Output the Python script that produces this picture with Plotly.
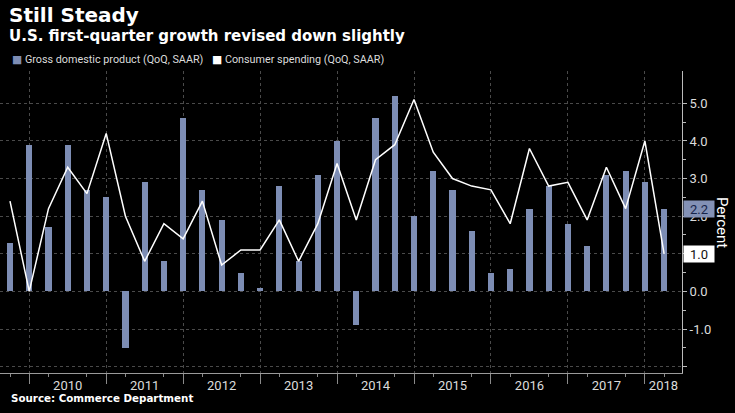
import plotly.graph_objects as go

# ---------------- data ----------------
quarters = [
    "2009Q3", "2009Q4",
    "2010Q1", "2010Q2", "2010Q3", "2010Q4",
    "2011Q1", "2011Q2", "2011Q3", "2011Q4",
    "2012Q1", "2012Q2", "2012Q3", "2012Q4",
    "2013Q1", "2013Q2", "2013Q3", "2013Q4",
    "2014Q1", "2014Q2", "2014Q3", "2014Q4",
    "2015Q1", "2015Q2", "2015Q3", "2015Q4",
    "2016Q1", "2016Q2", "2016Q3", "2016Q4",
    "2017Q1", "2017Q2", "2017Q3", "2017Q4",
    "2018Q1",
]
gdp = [
    1.3, 3.9,
    1.7, 3.9, 2.7, 2.5,
    -1.5, 2.9, 0.8, 4.6,
    2.7, 1.9, 0.5, 0.1,
    2.8, 0.8, 3.1, 4.0,
    -0.9, 4.6, 5.2, 2.0,
    3.2, 2.7, 1.6, 0.5,
    0.6, 2.2, 2.8, 1.8,
    1.2, 3.1, 3.2, 2.9,
    2.2,
]
spending = [
    2.4, 0.0,
    2.2, 3.3, 2.6, 4.2,
    2.0, 0.8, 1.8, 1.4,
    2.4, 0.7, 1.1, 1.1,
    1.9, 0.8, 1.8, 3.4,
    1.9, 3.5, 3.9, 5.1,
    3.7, 3.0, 2.8, 2.7,
    1.8, 3.8, 2.8, 2.9,
    1.9, 3.3, 2.2, 4.0,
    1.0,
]
year_labels = ["2010", "2011", "2012", "2013", "2014", "2015", "2016", "2017", "2018"]
y_ticks = [-2, -1, 0, 1, 2, 3, 4, 5]

# ---------------- styling ----------------
BAR_COLOR = "#7d8db4"
GRID = "#4a4a4a"
TXT = "#dcdcdc"
W, H = 735, 413
ML, MR, MT, MB = 0, 53, 71, 40
plot_w = W - ML - MR
plot_h = H - MT - MB

idx = list(range(len(quarters)))
x_min, x_max = -0.52, 34.93
y_min, y_max = -2.17, 5.86

# year boundaries at Q4 observations
boundaries = [i for i, q in enumerate(quarters) if q.endswith("Q4")]
# year label positions: middle of each (visible) year span
label_pos = []
for y in year_labels:
    start = idx[quarters.index(f"{int(y) - 1}Q4")]
    end = min(start + 4, x_max)
    label_pos.append((start + end) / 2)
minor_x = [i for i in idx if i % 2 == 0]


def px_to_paper_x(px):
    return (px - ML) / plot_w


def px_to_paper_y(py):
    return (H - MB - py) / plot_h


fig = go.Figure()
fig.add_trace(go.Bar(
    x=idx, y=gdp, marker=dict(color=BAR_COLOR, line=dict(width=0)),
    width=0.32, showlegend=False, name="Gross domestic product (QoQ, SAAR)",
))
fig.add_trace(go.Scatter(
    x=idx, y=spending, mode="lines", line=dict(color="white", width=1.5),
    showlegend=False, name="Consumer spending (QoQ, SAAR)",
))
# invisible carrier trace for the secondary x axis (short quarter ticks)
fig.add_trace(go.Scatter(
    x=minor_x, y=[None] * len(minor_x), xaxis="x2", mode="markers",
    marker=dict(opacity=0), showlegend=False, hoverinfo="skip",
))

fig.update_layout(
    width=W, height=H,
    paper_bgcolor="black", plot_bgcolor="black",
    margin=dict(l=ML, r=MR, t=MT, b=MB, autoexpand=False),
    bargap=0,
    xaxis=dict(
        range=[x_min, x_max],
        tickmode="array", tickvals=label_pos, ticktext=year_labels,
        ticks="", showgrid=False, zeroline=False,
        showline=True, linecolor="#9a9a9a", linewidth=1,
        tickfont=dict(family="Roboto, DejaVu Sans, sans-serif", size=13, color=TXT),
        minor=dict(tickmode="array", tickvals=boundaries, ticks="outside", ticklen=10,
                   tickcolor="#8a8a8a", showgrid=True, gridcolor=GRID, griddash="dot",
                   gridwidth=1),
    ),
    xaxis2=dict(
        range=[x_min, x_max], overlaying="x", anchor="y", side="bottom",
        tickmode="array", tickvals=minor_x, showticklabels=False,
        ticks="outside", ticklen=3, tickcolor="#8a8a8a",
        showgrid=False, zeroline=False, showline=False,
    ),
    yaxis=dict(
        range=[y_min, y_max], side="right",
        tickmode="array", tickvals=y_ticks,
        ticktext=["" if v == -2 else f"{v:.1f}" for v in y_ticks],
        ticks="outside", ticklen=4, tickcolor="#bbbbbb",
        showline=True, linecolor="#bbbbbb", linewidth=1,
        showgrid=True, gridcolor=GRID, griddash="dot", gridwidth=1,
        zeroline=False,
        tickfont=dict(family="Roboto, DejaVu Sans, sans-serif", size=13, color=TXT),
        minor=dict(tickmode="array", tickvals=[v + 0.5 for v in y_ticks[:-1]],
                   ticks="outside", ticklen=3, tickcolor="#bbbbbb", showgrid=False),
    ),
)

ann = []
ann.append(dict(
    text="<b>Still Steady</b>", xref="paper", yref="paper",
    x=px_to_paper_x(7), y=px_to_paper_y(15), xanchor="left", yanchor="middle",
    showarrow=False, font=dict(family="DejaVu Sans", size=20, color="white"),
))
ann.append(dict(
    text="<b>U.S. first-quarter growth revised down slightly</b>", xref="paper", yref="paper",
    x=px_to_paper_x(7), y=px_to_paper_y(36), xanchor="left", yanchor="middle",
    showarrow=False, font=dict(family="DejaVu Sans", size=15, color="white"),
))
ann.append(dict(
    text=f'<span style="color:{BAR_COLOR}">■</span> Gross domestic product (QoQ, SAAR)',
    xref="paper", yref="paper", x=px_to_paper_x(10), y=px_to_paper_y(60),
    xanchor="left", yanchor="middle", showarrow=False,
    font=dict(family="Roboto, DejaVu Sans, sans-serif", size=10.8, color=TXT),
))
ann.append(dict(
    text='<span style="color:white">■</span> Consumer spending (QoQ, SAAR)',
    xref="paper", yref="paper", x=px_to_paper_x(210), y=px_to_paper_y(60),
    xanchor="left", yanchor="middle", showarrow=False,
    font=dict(family="Roboto, DejaVu Sans, sans-serif", size=10.8, color=TXT),
))
ann.append(dict(
    text="<b>Source: Commerce Department</b>", xref="paper", yref="paper",
    x=px_to_paper_x(9), y=px_to_paper_y(398), xanchor="left", yanchor="middle",
    showarrow=False, font=dict(family="DejaVu Sans", size=10.3, color="white"),
))
ann.append(dict(
    text="Percent", xref="paper", yref="paper", x=px_to_paper_x(722), y=0.5,
    xanchor="center", yanchor="middle", textangle=90, showarrow=False,
    font=dict(family="Roboto, DejaVu Sans, sans-serif", size=15, color="white"),
))
# last-value tags
ann.append(dict(
    text=f"{gdp[-1]:.1f}", xref="paper", yref="y", x=1.0, xshift=1, y=gdp[-1],
    xanchor="left", yanchor="middle", showarrow=False, width=28, height=14,
    bgcolor="#8391b5", borderpad=1,
    font=dict(family="Roboto, DejaVu Sans, sans-serif", size=13, color="#16244a"),
))
ann.append(dict(
    text=f"{spending[-1]:.1f}", xref="paper", yref="y", x=1.0, xshift=1, y=spending[-1],
    xanchor="left", yanchor="middle", showarrow=False, width=28, height=14,
    bgcolor="white", borderpad=1,
    font=dict(family="Roboto, DejaVu Sans, sans-serif", size=13, color="#111111"),
))
fig.update_layout(annotations=ann)

fig.write_html("out.html", config={"displayModeBar": False},
               post_script="document.body.style.margin='0';")
